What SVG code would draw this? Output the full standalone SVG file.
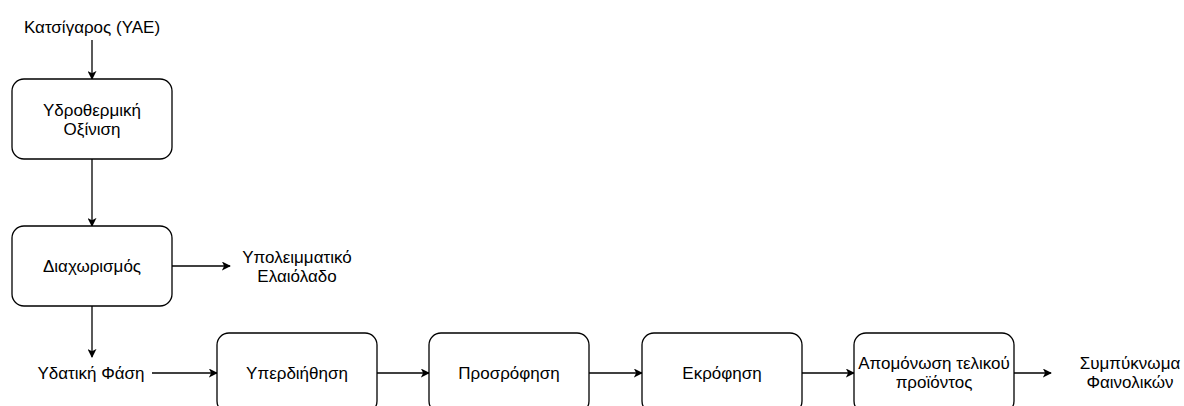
<svg xmlns="http://www.w3.org/2000/svg" width="1184" height="406" viewBox="0 0 1184 406">
<style>
.box{fill:#fff;stroke:#000;stroke-width:1.3}
.t{font-family:"Liberation Sans",Arial,sans-serif;font-size:17px;fill:#000;text-anchor:middle;dominant-baseline:central}
.c{stroke:#000;stroke-width:1.3;fill:none;marker-end:url(#ah)}
</style>
<defs>
<marker id="ah" viewBox="0 0 10 10" refX="9" refY="5" markerWidth="9" markerHeight="9" markerUnits="userSpaceOnUse" orient="auto">
<path d="M0,0 L10,5 L0,10 L2.5,5 Z" fill="#000"/>
</marker>
</defs>
<rect width="1184" height="406" fill="#fff"/>
<g id="connectors">
<line class="c" x1="92" y1="40" x2="92" y2="79"/>
<line class="c" x1="92" y1="159" x2="92" y2="226"/>
<line class="c" x1="172" y1="266" x2="230" y2="266"/>
<line class="c" x1="92" y1="306" x2="92" y2="357"/>
<line class="c" x1="152" y1="373" x2="217" y2="373"/>
<line class="c" x1="377" y1="373" x2="429" y2="373"/>
<line class="c" x1="589" y1="373" x2="642" y2="373"/>
<line class="c" x1="802" y1="373" x2="854" y2="373"/>
<line class="c" x1="1014" y1="373" x2="1051" y2="373"/>
</g>
<g id="input"><text class="t" x="92" y="27">Κατσίγαρος (ΥΑΕ)</text></g>
<g id="oxinisi"><rect class="box" x="12" y="79" width="160" height="80" rx="12"/><text class="t" x="92" y="110">Υδροθερμική</text><text class="t" x="92" y="129">Οξίνιση</text></g>
<g id="diaxorismos"><rect class="box" x="12" y="226" width="160" height="80" rx="12"/><text class="t" x="92" y="266">Διαχωρισμός</text></g>
<g id="elaiolado"><text class="t" x="297" y="257">Υπολειμματικό</text><text class="t" x="297" y="276">Ελαιόλαδο</text></g>
<g id="ydatiki"><text class="t" x="91" y="373">Υδατική Φάση</text></g>
<g id="yperdiithisi"><rect class="box" x="217" y="333" width="160" height="80" rx="12"/><text class="t" x="297" y="373">Υπερδιήθηση</text></g>
<g id="prosrofisi"><rect class="box" x="429" y="333" width="160" height="80" rx="12"/><text class="t" x="509" y="373">Προσρόφηση</text></g>
<g id="ekrofisi"><rect class="box" x="642" y="333" width="160" height="80" rx="12"/><text class="t" x="722" y="373">Εκρόφηση</text></g>
<g id="apomonosi"><rect class="box" x="854" y="333" width="160" height="80" rx="12"/><text class="t" x="934" y="363">Απομόνωση τελικού</text><text class="t" x="934" y="382">προϊόντος</text></g>
<g id="output"><text class="t" x="1130" y="363">Συμπύκνωμα</text><text class="t" x="1130" y="382">Φαινολικών</text></g>
</svg>
